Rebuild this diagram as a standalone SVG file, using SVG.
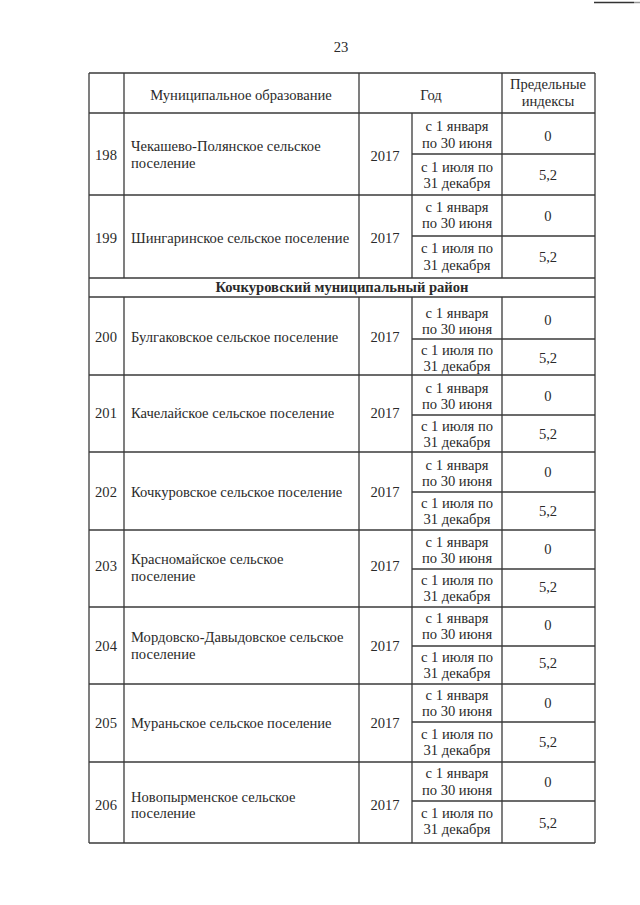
<svg xmlns="http://www.w3.org/2000/svg" width="640" height="905" viewBox="0 0 640 905">
<style>
text{font-family:"Liberation Serif","DejaVu Serif",serif;font-size:14.6px;fill:#2a2a2a}
.c{text-anchor:middle}
.b{font-weight:bold}
.g line{stroke:#3a3a3a;stroke-width:1.3}
</style>
<rect width="640" height="905" fill="#fff"/>
<line x1="594" y1="2.5" x2="634" y2="2.5" stroke="#333" stroke-width="1.5"/>
<line x1="634" y1="2.5" x2="640" y2="2.5" stroke="#999" stroke-width="1.5"/>
<g font-family="Liberation Serif, serif">
<text class="c" x="341" y="52">23</text>
<g id="grid" class="g">
<line x1="89" y1="73" x2="595" y2="73"/>
<line x1="89" y1="113" x2="595" y2="113"/>
<line x1="89" y1="195" x2="595" y2="195"/>
<line x1="89" y1="278" x2="595" y2="278"/>
<line x1="89" y1="297" x2="595" y2="297"/>
<line x1="89" y1="375" x2="595" y2="375"/>
<line x1="89" y1="452" x2="595" y2="452"/>
<line x1="89" y1="530" x2="595" y2="530"/>
<line x1="89" y1="607" x2="595" y2="607"/>
<line x1="89" y1="684" x2="595" y2="684"/>
<line x1="89" y1="762" x2="595" y2="762"/>
<line x1="89" y1="843" x2="595" y2="843"/>
<line x1="412" y1="154" x2="595" y2="154"/>
<line x1="412" y1="236" x2="595" y2="236"/>
<line x1="412" y1="339" x2="595" y2="339"/>
<line x1="412" y1="415" x2="595" y2="415"/>
<line x1="412" y1="492" x2="595" y2="492"/>
<line x1="412" y1="569" x2="595" y2="569"/>
<line x1="412" y1="646" x2="595" y2="646"/>
<line x1="412" y1="722" x2="595" y2="722"/>
<line x1="412" y1="801" x2="595" y2="801"/>
<line x1="89" y1="73" x2="89" y2="843"/>
<line x1="595" y1="73" x2="595" y2="843"/>
<line x1="124" y1="73" x2="124" y2="278"/>
<line x1="124" y1="297" x2="124" y2="843"/>
<line x1="359" y1="73" x2="359" y2="278"/>
<line x1="359" y1="297" x2="359" y2="843"/>
<line x1="412" y1="113" x2="412" y2="278"/>
<line x1="412" y1="297" x2="412" y2="843"/>
<line x1="502" y1="73" x2="502" y2="278"/>
<line x1="502" y1="297" x2="502" y2="843"/>
</g>
<g id="header">
<text class="c" x="241" y="100">Муниципальное образование</text>
<text class="c" x="431" y="100">Год</text>
<text class="c" x="548" y="89">Предельные</text>
<text class="c" x="548" y="106">индексы</text>
</g>
<g id="r198">
<text class="c" x="106" y="160">198</text>
<text x="131" y="151">Чекашево-Полянское сельское</text>
<text x="131" y="168">поселение</text>
<text class="c" x="385" y="161">2017</text>
<text class="c" x="457" y="131">с 1 января</text>
<text class="c" x="457" y="148">по 30 июня</text>
<text class="c" x="457" y="172">с 1 июля по</text>
<text class="c" x="457" y="188">31 декабря</text>
<text class="c" x="548" y="141">0</text>
<text class="c" x="548" y="180">5,2</text>
</g>
<g id="r199">
<text class="c" x="106" y="243">199</text>
<text x="131" y="243">Шингаринское сельское поселение</text>
<text class="c" x="385" y="243">2017</text>
<text class="c" x="457" y="212">с 1 января</text>
<text class="c" x="457" y="228">по 30 июня</text>
<text class="c" x="457" y="253">с 1 июля по</text>
<text class="c" x="457" y="270">31 декабря</text>
<text class="c" x="548" y="221">0</text>
<text class="c" x="548" y="262">5,2</text>
</g>
<g id="district">
<text class="c b" x="342" y="292">Кочкуровский муниципальный район</text>
</g>
<g id="r200">
<text class="c" x="106" y="342">200</text>
<text x="131" y="342">Булгаковское сельское поселение</text>
<text class="c" x="385" y="342">2017</text>
<text class="c" x="457" y="318">с 1 января</text>
<text class="c" x="457" y="334">по 30 июня</text>
<text class="c" x="457" y="355">с 1 июля по</text>
<text class="c" x="457" y="371">31 декабря</text>
<text class="c" x="548" y="325">0</text>
<text class="c" x="548" y="363">5,2</text>
</g>
<g id="r201">
<text class="c" x="106" y="418">201</text>
<text x="131" y="418">Качелайское сельское поселение</text>
<text class="c" x="385" y="418">2017</text>
<text class="c" x="457" y="393">с 1 января</text>
<text class="c" x="457" y="409">по 30 июня</text>
<text class="c" x="457" y="431">с 1 июля по</text>
<text class="c" x="457" y="447">31 декабря</text>
<text class="c" x="548" y="401">0</text>
<text class="c" x="548" y="439">5,2</text>
</g>
<g id="r202">
<text class="c" x="106" y="497">202</text>
<text x="131" y="497">Кочкуровское сельское поселение</text>
<text class="c" x="385" y="497">2017</text>
<text class="c" x="457" y="470">с 1 января</text>
<text class="c" x="457" y="486">по 30 июня</text>
<text class="c" x="457" y="508">с 1 июля по</text>
<text class="c" x="457" y="524">31 декабря</text>
<text class="c" x="548" y="477">0</text>
<text class="c" x="548" y="516">5,2</text>
</g>
<g id="r203">
<text class="c" x="106" y="571">203</text>
<text x="131" y="564">Красномайское сельское</text>
<text x="131" y="581">поселение</text>
<text class="c" x="385" y="571">2017</text>
<text class="c" x="457" y="547">с 1 января</text>
<text class="c" x="457" y="563">по 30 июня</text>
<text class="c" x="457" y="585">с 1 июля по</text>
<text class="c" x="457" y="601">31 декабря</text>
<text class="c" x="548" y="554">0</text>
<text class="c" x="548" y="592">5,2</text>
</g>
<g id="r204">
<text class="c" x="106" y="651">204</text>
<text x="131" y="642">Мордовско-Давыдовское сельское</text>
<text x="131" y="659">поселение</text>
<text class="c" x="385" y="651">2017</text>
<text class="c" x="457" y="623">с 1 января</text>
<text class="c" x="457" y="639">по 30 июня</text>
<text class="c" x="457" y="662">с 1 июля по</text>
<text class="c" x="457" y="678">31 декабря</text>
<text class="c" x="548" y="630">0</text>
<text class="c" x="548" y="668">5,2</text>
</g>
<g id="r205">
<text class="c" x="106" y="728">205</text>
<text x="131" y="728">Мураньское сельское поселение</text>
<text class="c" x="385" y="728">2017</text>
<text class="c" x="457" y="700">с 1 января</text>
<text class="c" x="457" y="716">по 30 июня</text>
<text class="c" x="457" y="739">с 1 июля по</text>
<text class="c" x="457" y="755">31 декабря</text>
<text class="c" x="548" y="708">0</text>
<text class="c" x="548" y="747">5,2</text>
</g>
<g id="r206">
<text class="c" x="106" y="810">206</text>
<text x="131" y="802">Новопырменское сельское</text>
<text x="131" y="818">поселение</text>
<text class="c" x="385" y="810">2017</text>
<text class="c" x="457" y="778">с 1 января</text>
<text class="c" x="457" y="795">по 30 июня</text>
<text class="c" x="457" y="818">с 1 июля по</text>
<text class="c" x="457" y="834">31 декабря</text>
<text class="c" x="548" y="787">0</text>
<text class="c" x="548" y="828">5,2</text>
</g>
</g>
</svg>
